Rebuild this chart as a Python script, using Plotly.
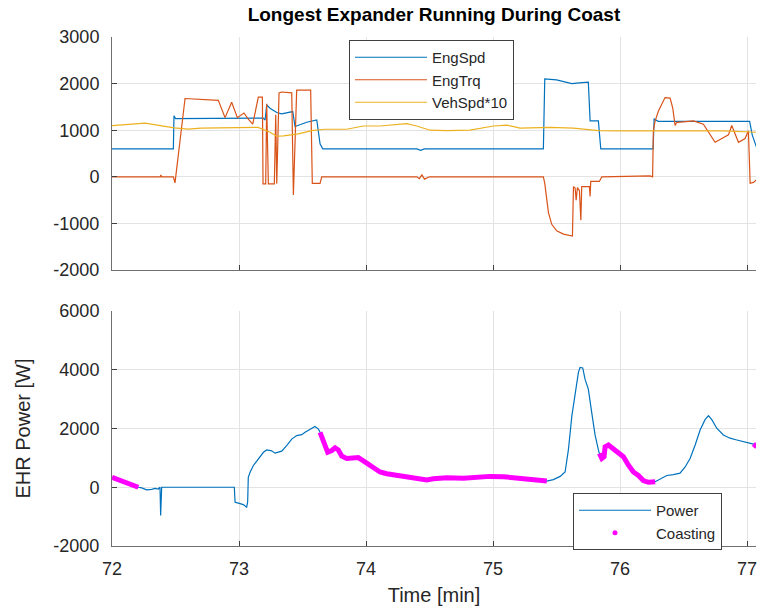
import plotly.graph_objects as go

# ---------------- data ----------------
eng_spd_t = [72.0, 72.483, 72.488, 72.50, 72.80, 73.19, 73.205, 73.218, 73.244, 73.297,
             73.336, 73.423, 73.441, 73.533, 73.612, 73.638, 73.659, 74.40, 74.43, 74.46,
             75.396, 75.407, 75.50, 75.620, 75.70, 75.750, 75.764, 75.829, 75.848, 76.26,
             76.268, 76.30, 77.020, 77.040, 77.076]
eng_spd_v = [600, 600, 1310, 1250, 1255, 1260, 1220, 1540, 1470, 1380,
             1350, 1400, 1080, 1170, 1220, 710, 600, 600, 570, 600,
             600, 2100, 2080, 2000, 2020, 2030, 1200, 1200, 600, 600,
             1240, 1190, 1190, 900, 620]

eng_trq_t = [72.0, 72.38, 72.385, 72.39, 72.483, 72.496, 72.575, 72.693, 72.837, 72.890,
             72.942, 72.987, 73.039, 73.073, 73.108, 73.152, 73.184, 73.189, 73.210, 73.218,
             73.231, 73.278, 73.289, 73.297, 73.315, 73.336, 73.415, 73.428, 73.454, 73.564,
             73.577, 73.638, 73.651, 74.40, 74.42, 74.44, 74.46, 74.50, 75.396, 75.407,
             75.423, 75.436, 75.462, 75.501, 75.554, 75.625, 75.633, 75.646, 75.654, 75.664,
             75.680, 75.691, 75.698, 75.759, 75.764, 75.769, 75.837, 75.856, 76.236, 76.256,
             76.262, 76.276, 76.302, 76.354, 76.394, 76.415, 76.433, 76.446, 76.498, 76.577,
             76.656, 76.709, 76.748, 76.787, 76.853, 76.879, 76.906, 76.932, 76.984, 77.010,
             77.024, 77.050, 77.076]
eng_trq_v = [0, 0, 40, 0, 0, -130, 1680, 1660, 1640, 1270,
             1600, 1270, 1370, 1240, 1130, 1710, 1710, -150, -150, 1570,
             -150, -150, 1330, -150, 1800, 1820, 1800, -390, 1860, 1860,
             -140, -140, 0, 0, -40, 40, -50, 0, 0, -140,
             -560, -770, -1020, -1160, -1230, -1270, -210, -240, -500, -230,
             -300, -930, -210, -210, -420, -100, -100, 0, 20, 0,
             990, 1200, 1410, 1700, 1690, 1470, 1100, 1170, 1180, 1200,
             1130, 920, 740, 800, 900, 1100, 900, 740, 820, 990,
             -140, -120, -60]

veh_spd_t = [72.0, 72.26, 72.49, 72.60, 72.70, 72.995, 73.15, 73.244, 73.297, 73.35,
             73.467, 73.572, 73.677, 73.848, 73.979, 74.110, 74.320, 74.399, 74.504, 74.635,
             74.819, 75.003, 75.108, 75.213, 75.370, 75.449, 75.633, 75.738, 75.829, 76.026,
             76.289, 76.551, 76.813, 77.076]
veh_spd_v = [1100, 1150, 1050, 1025, 1045, 1060, 1060, 955, 870, 880,
             920, 990, 1020, 1020, 1090, 1090, 1140, 1090, 1000, 990,
             1000, 1090, 1110, 1046, 1050, 1060, 1046, 1021, 990, 985,
             980, 985, 985, 955]

power_t = [72.0, 72.102, 72.207, 72.234, 72.273, 72.312, 72.339, 72.365, 72.378, 72.383,
           72.391, 72.963, 72.969, 72.995, 73.034, 73.060, 73.068, 73.073, 73.087, 73.113,
           73.152, 73.192, 73.218, 73.257, 73.283, 73.310, 73.336, 73.375, 73.415, 73.454,
           73.494, 73.520, 73.559, 73.598, 73.625, 73.638, 73.664, 73.698, 73.730, 73.756,
           73.782, 73.809, 73.848, 73.913, 73.939, 73.979, 74.018, 74.058, 74.110, 74.163,
           74.242, 74.320, 74.399, 74.478, 74.530, 74.635, 74.766, 74.871, 74.976, 75.081,
           75.187, 75.291, 75.396, 75.423, 75.475, 75.528, 75.567, 75.593, 75.620, 75.646,
           75.672, 75.685, 75.706, 75.724, 75.750, 75.777, 75.803, 75.829, 75.837, 75.856,
           75.874, 75.882, 75.908, 75.947, 75.987, 76.026, 76.066, 76.105, 76.144, 76.183,
           76.223, 76.276, 76.315, 76.368, 76.420, 76.472, 76.512, 76.551, 76.591, 76.630,
           76.669, 76.696, 76.722, 76.761, 76.813, 76.866, 76.919, 76.971, 77.037, 77.050,
           77.076]
power_w = [340, 170, 0, -20, -90, -70, -40, -60, 0, -960,
           0, 0, -510, -540, -590, -680, -500, 340, 510, 740,
           960, 1190, 1270, 1240, 1160, 1200, 1230, 1420, 1640, 1760,
           1790, 1870, 1960, 2070, 1980, 1870, 1590, 1190, 1250, 1340,
           1270, 1060, 980, 980, 1010, 900, 780, 630, 520, 460,
           400, 345, 290, 250, 290, 320, 310, 345, 370, 360,
           310, 280, 230, 210, 260, 370, 520, 1270, 2420, 3220,
           3910, 4080, 4060, 3680, 3340, 2530, 1780, 1270, 1150, 980,
           1040, 1380, 1440, 1320, 1210, 1040, 750, 520, 400, 230,
           170, 190, 290, 400, 430, 480, 690, 980, 1440, 1950,
           2300, 2440, 2300, 2010, 1780, 1670, 1610, 1550, 1500, 1470,
           1380]

coast_start = [72.0, 73.638, 75.837, 77.050]
coast_end = [72.207, 75.423, 76.276, 77.076]

x_ticks = [72, 73, 74, 75, 76, 77]
x_tick_text = ["72", "73", "74", "75", "76", "77"]
y1_ticks = [-2000, -1000, 0, 1000, 2000, 3000]
y1_tick_text = ["-2000", "-1000", "0", "1000", "2000", "3000"]
y2_ticks = [-2000, 0, 2000, 4000, 6000]
y2_tick_text = ["-2000", "0", "2000", "4000", "6000"]

# ---------------- coasting points (subset of the power samples) ----------------
coast_t, coast_w = [], []
for s, e in zip(coast_start, coast_end):
    for t, w in zip(power_t, power_w):
        if s <= t <= e:
            coast_t.append(t)
            coast_w.append(w)
    coast_t.append(None)
    coast_w.append(None)

BLUE = "#0072BD"
ORANGE = "#D95319"
YELLOW = "#EDB120"
MAGENTA = "#FF00FF"
FONT = "Liberation Sans, Arial, sans-serif"
TXT = "#262626"

fig = go.Figure()
fig.add_trace(go.Scatter(x=eng_spd_t, y=eng_spd_v, mode="lines", name="EngSpd",
                         line=dict(color=BLUE, width=1.2), xaxis="x", yaxis="y", legend="legend"))
fig.add_trace(go.Scatter(x=eng_trq_t, y=eng_trq_v, mode="lines", name="EngTrq",
                         line=dict(color=ORANGE, width=1.2), xaxis="x", yaxis="y", legend="legend"))
fig.add_trace(go.Scatter(x=veh_spd_t, y=veh_spd_v, mode="lines", name="VehSpd*10",
                         line=dict(color=YELLOW, width=1.2), xaxis="x", yaxis="y", legend="legend"))

fig.add_trace(go.Scatter(x=power_t, y=power_w, mode="lines", name="Power",
                         line=dict(color=BLUE, width=1.2), xaxis="x2", yaxis="y2", legend="legend2"))
fig.add_trace(go.Scatter(x=coast_t, y=coast_w, mode="lines", showlegend=False,
                         line=dict(color=MAGENTA, width=5), xaxis="x2", yaxis="y2"))
fig.add_trace(go.Scatter(x=[None], y=[None], mode="markers", name="Coasting",
                         marker=dict(color=MAGENTA, size=5), xaxis="x2", yaxis="y2", legend="legend2"))

axis_common = dict(showgrid=True, gridcolor="#e3e3e3", gridwidth=1, zeroline=False,
                   showline=True, linecolor="#707070", linewidth=1, ticks="inside",
                   ticklen=5, tickcolor="#404040", tickfont=dict(family=FONT, size=18, color=TXT),
                   mirror=False)

H = 509.0
top_lo = (546 - 270) / H
bot_hi = (546 - 311) / H

fig.update_layout(
    width=760, height=610,
    margin=dict(l=112, r=4, t=37, b=64),
    paper_bgcolor="white", plot_bgcolor="white",
    font=dict(family=FONT, color=TXT),
    title=dict(text="<b>Longest Expander Running During Coast</b>", x=0.571, xanchor="center",
               y=0.977, yanchor="middle", font=dict(family=FONT, size=19, color="black")),
    xaxis=dict(axis_common, range=[72, 77.07], tickvals=x_ticks, showticklabels=False,
               domain=[0, 1], anchor="y"),
    yaxis=dict(axis_common, range=[-2000, 3000], tickvals=y1_ticks, ticktext=y1_tick_text,
               ticklabelstandoff=8, domain=[top_lo, 1], anchor="x"),
    xaxis2=dict(axis_common, range=[72, 77.07], tickvals=x_ticks, ticktext=x_tick_text,
                ticklabelstandoff=6, domain=[0, 1], anchor="y2",
                title=dict(text="Time [min]", font=dict(family=FONT, size=20, color=TXT), standoff=10)),
    yaxis2=dict(axis_common, range=[-2000, 6000], tickvals=y2_ticks, ticktext=y2_tick_text,
                ticklabelstandoff=8, domain=[0, bot_hi], anchor="x2",
                title=dict(text="EHR Power [W]", font=dict(family=FONT, size=20, color=TXT), standoff=17)),
    legend=dict(x=(349 - 112) / 644, y=(546 - 40) / H, xanchor="left", yanchor="top",
                bgcolor="white", bordercolor="#404040", borderwidth=1, itemwidth=72,
                font=dict(family=FONT, size=15, color=TXT), tracegroupgap=0),
    legend2=dict(x=(573 - 112) / 644, y=(546 - 493) / H, xanchor="left", yanchor="top",
                 bgcolor="white", bordercolor="#404040", borderwidth=1, itemwidth=72,
                 font=dict(family=FONT, size=15, color=TXT), tracegroupgap=0),
    showlegend=True,
)

fig.write_html("out.html")
